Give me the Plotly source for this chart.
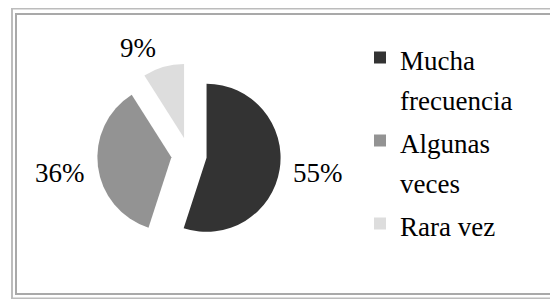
import plotly.graph_objects as go

labels = ["Mucha<br>frecuencia", "Algunas<br>veces", "Rara vez"]
values = [55, 36, 9]
colors = ["#333333", "#939393", "#dddddd"]

# the page body has an 8px margin, so the figure is 8px smaller each way
W, H = 550, 291
FONT = "Liberation Serif, Times New Roman, serif"

total = sum(values)
pct_text = [f"{round(v / total * 100)}%" for v in values]

# legend labels: glyphs at 27px inside a legend whose line height gives the reference spacing
leg_labels = ['<span style="font-size:27px">' + lab + "</span>" for lab in labels]

cx, cy, R = 181, 147, 91.8

fig = go.Figure(go.Pie(
    labels=leg_labels,
    values=values,
    sort=False,
    direction="clockwise",
    rotation=0,
    pull=[0.24, 0.24, 0.24],
    marker=dict(colors=colors, line=dict(width=0)),
    textinfo="none",
    domain=dict(x=[(cx - R) / W, (cx + R) / W], y=[1 - (cy + R) / H, 1 - (cy - R) / H]),
    hoverinfo="label+percent",
))

# outside percentage labels
label_pos = [(310, 164.5), (52, 164.5), (130, 40)]
annotations = []
for t, (px, py) in zip(pct_text, label_pos):
    annotations.append(dict(text=t, x=px / W, y=1 - py / H, xref="paper", yref="paper",
                            showarrow=False, xanchor="center", yanchor="middle",
                            font=dict(family=FONT, size=27, color="#000000")))

def rect(x0, y0, x1, y1, color):
    return dict(type="rect", xref="paper", yref="paper",
                x0=x0 / W, x1=x1 / W, y0=1 - y0 / H, y1=1 - y1 / H,
                line=dict(color=color, width=2), fillcolor="rgba(0,0,0,0)", layer="below")

fig.update_layout(
    width=W, height=H,
    margin=dict(l=0, r=0, t=0, b=0),
    paper_bgcolor="white",
    plot_bgcolor="white",
    font=dict(family=FONT, color="#000000"),
    showlegend=True,
    legend=dict(x=352 / W, y=1 - 23 / H, xanchor="left", yanchor="top",
                font=dict(family=FONT, size=30.77, color="#000000"),
                valign="top", itemwidth=30, bgcolor="rgba(0,0,0,0)"),
    annotations=annotations,
    shapes=[rect(4, 0.5, 549, 290.5, "#bcbcbc"), rect(8, 6, 544, 286, "#a9a9a9")],
)

fig.write_html("out.html")
